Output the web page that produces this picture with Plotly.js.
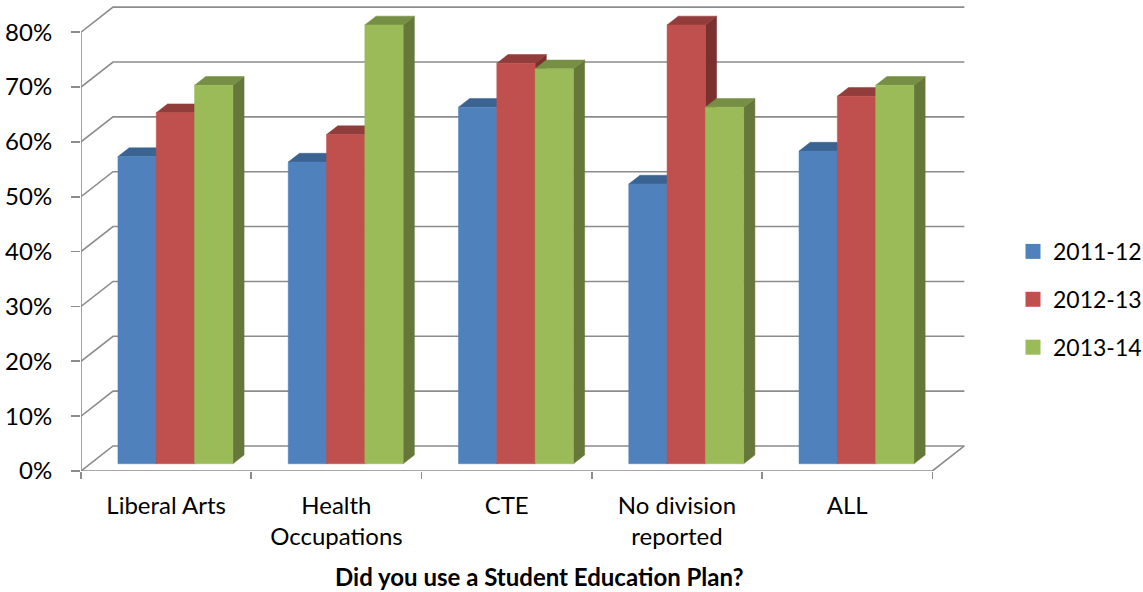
<!DOCTYPE html>
<html><head><meta charset="utf-8">
<script src="https://cdn.plot.ly/plotly-3.0.1.min.js"></script>
<style>html,body{margin:0;padding:0;background:#fff}#chart{width:1143px;height:592px}</style>
</head><body><div id="chart"></div>
<script>
// ---- data ----
const categories = ['Liberal Arts', 'Health<br>Occupations', 'CTE', 'No division<br>reported', 'ALL'];
const seriesNames = ['2011-12', '2012-13', '2013-14'];
const values2011 = [56, 55, 65, 51, 57];
const values2012 = [64, 60, 73, 80, 67];
const values2013 = [69, 80, 72, 65, 69];
const yTickValues = [0, 10, 20, 30, 40, 50, 60, 70, 80];
const yTickLabels = ['0%', '10%', '20%', '30%', '40%', '50%', '60%', '70%', '80%'];
const axisTitle = 'Did you use a Student Education Plan?';

// ---- style ----
const frontColors = ['#4F81BD', '#C0504D', '#9BBB59'];
const topColors = ['#3B6392', '#913D3B', '#768F44'];
const sideColors = ['#345680', '#7A302E', '#65783A'];
const gridColor = '#8c8c8c';
const FONT = 'Lato, "Open Sans", sans-serif';

// 3D geometry (in data units)
const DX = 0.188, DY = 4.56;       // full wall depth offset
const barFront = 0.29, barDepth = 0.35;
const barW = 0.225;
const nCat = categories.length;
const xMin = -0.5, xMax = -0.5 + 885 / 170.27;

const allSeries = [values2011, values2012, values2013];
const traces = [];

// back wall grid lines + floor + front axes
const gx = [], gy = [];
yTickValues.forEach(v => {
  gx.push(-0.5, -0.5 + DX, nCat - 0.5 + DX, null);
  gy.push(v, v + DY, v + DY, null);
});
gx.push(-0.5, nCat - 0.5, nCat - 0.5 + DX, null);
gy.push(0, 0, DY, null);
gx.push(-0.5, -0.5, null);
gy.push(0, yTickValues[yTickValues.length - 1], null);
traces.push({type: 'scatter', mode: 'lines', x: gx, y: gy, line: {color: gridColor, width: 1.6},
  hoverinfo: 'skip', showlegend: false});

// bars (front, top, side faces)
allSeries.forEach((vals, s) => {
  const fx = [], fy = [], tx = [], ty = [], sx = [], sy = [];
  const bdx = barDepth * DX, bdy = barDepth * DY;
  vals.forEach((v, i) => {
    const x0 = i - 1.5 * barW + s * barW + barFront * DX;
    const x1 = x0 + barW;
    const y0 = barFront * DY;
    const y1 = y0 + v;
    fx.push(x0, x1, x1, x0, x0, null); fy.push(y0, y0, y1, y1, y0, null);
    tx.push(x0, x1, x1 + bdx, x0 + bdx, x0, null); ty.push(y1, y1, y1 + bdy, y1 + bdy, y1, null);
    sx.push(x1, x1 + bdx, x1 + bdx, x1, x1, null); sy.push(y0, y0 + bdy, y1 + bdy, y1, y0, null);
  });
  const mk = (x, y, c) => ({type: 'scatter', mode: 'lines', x: x, y: y, fill: 'toself', fillcolor: c,
    line: {color: c, width: 0.5}, hoverinfo: 'skip', showlegend: false});
  traces.push(mk(sx, sy, sideColors[s]));
  traces.push(mk(tx, ty, topColors[s]));
  traces.push(mk(fx, fy, frontColors[s]));
});

// legend entries
seriesNames.forEach((n, s) => {
  traces.push({type: 'scatter', mode: 'markers', x: [null], y: [null], name: n, xaxis: 'x2',
    marker: {symbol: 'square', size: 15, color: frontColors[s]}, legendgroup: n, showlegend: true});
});

const layout = {
  width: 1143, height: 592,
  margin: {l: 81, r: 177, t: 2, b: 121, autoexpand: false},
  paper_bgcolor: '#fff', plot_bgcolor: '#fff',
  font: {family: FONT, size: 24, color: '#000'},
  showlegend: true,
  legend: {x: 1.0531, xanchor: 'left', y: 0.514, yanchor: 'top', traceorder: 'grouped', tracegroupgap: 15,
    font: {family: FONT, size: 23, color: '#000'}, bgcolor: 'rgba(0,0,0,0)'},
  xaxis: {range: [xMin, xMax], tickmode: 'array', tickvals: categories.map((c, i) => i), ticktext: categories,
    ticks: 'outside', ticklen: 13, tickcolor: 'rgba(0,0,0,0)', showgrid: false, zeroline: false, showline: false,
    tickfont: {family: FONT, size: 24, color: '#000'}, fixedrange: true},
  xaxis2: {range: [xMin, xMax], overlaying: 'x', anchor: 'y', side: 'bottom', tickmode: 'array',
    tickvals: categories.map((c, i) => i - 0.5).concat([nCat - 0.5]), showticklabels: false,
    ticks: 'outside', ticklen: 7, tickwidth: 1.6, tickcolor: gridColor, showgrid: false, zeroline: false, showline: false},
  yaxis: {range: [0, 85.5], tickmode: 'array', tickvals: yTickValues, ticktext: yTickLabels,
    ticks: 'outside', ticklen: 9, tickwidth: 1.6, tickcolor: gridColor, ticklabelstandoff: 14,
    showgrid: false, zeroline: false, showline: false, tickfont: {family: FONT, size: 24, color: '#000'}, fixedrange: true},
  annotations: [{text: '<b>' + axisTitle + '</b>', xref: 'paper', yref: 'paper', x: 0.5186, y: -0.226,
    xanchor: 'center', yanchor: 'middle', showarrow: false, font: {family: FONT, size: 24, color: '#000'}}]
};

Plotly.newPlot('chart', traces, layout, {displayModeBar: false, staticPlot: true});
</script>
</body></html>
